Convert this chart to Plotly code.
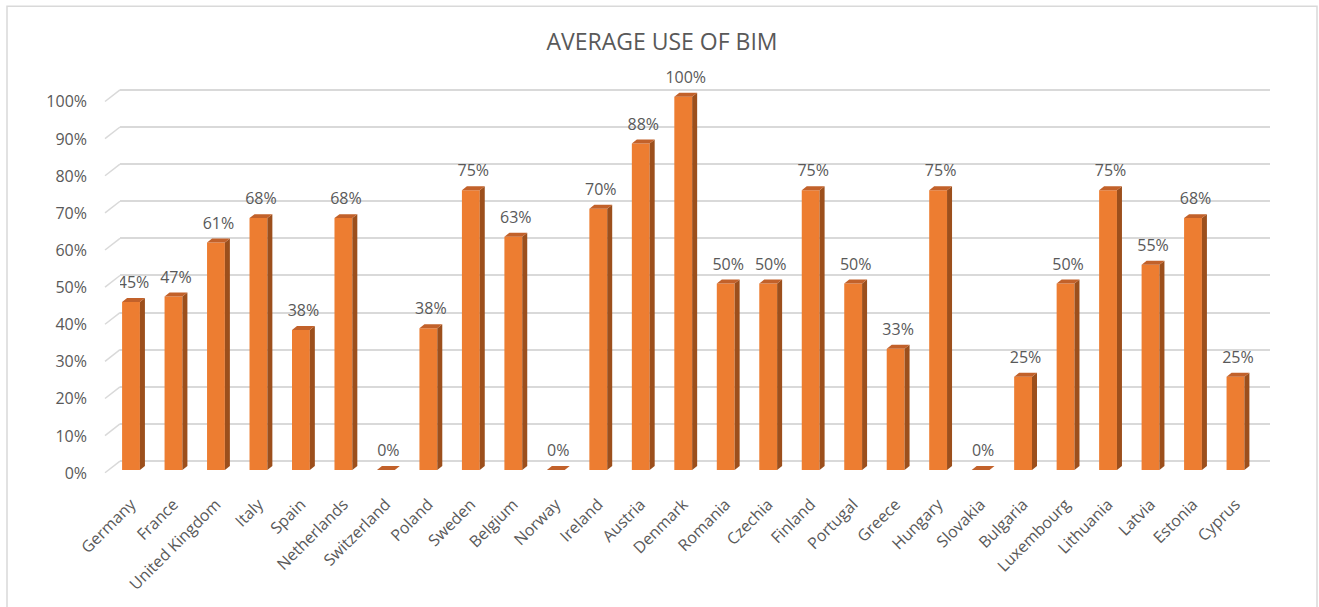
import plotly.graph_objects as go

countries = ["Germany", "France", "United Kingdom", "Italy", "Spain", "Netherlands",
             "Switzerland", "Poland", "Sweden", "Belgium", "Norway", "Ireland",
             "Austria", "Denmark", "Romania", "Czechia", "Finland", "Portugal",
             "Greece", "Hungary", "Slovakia", "Bulgaria", "Luxembourg", "Lithuania",
             "Latvia", "Estonia", "Cyprus"]
values = [0.45, 0.465, 0.61, 0.675, 0.375, 0.675, 0.0, 0.38, 0.75, 0.625, 0.0, 0.70,
          0.875, 1.0, 0.50, 0.50, 0.75, 0.50, 0.325, 0.75, 0.0, 0.25, 0.50, 0.75,
          0.55, 0.675, 0.25]
y_ticks = [i / 10 for i in range(11)]

W, H = 1319, 607
PL, PR, PT, PB = 120, 1270, 60, 480
STEP, X0PX = 42.48, 131.0
FRONT0, FRONTS = 472.0, 375.0
BACK0, BACKS = 463.0, 373.0

FRONT = "#ED7D31"
SIDE = "#9C4F1C"
TOP = "#C2612A"
GRID = "#D9D9D9"
TXT = "#595959"
FONT = "Open Sans"

bar_w = 0.42
ddx = 5.0 / STEP
ddy = 4.0 / FRONTS

xs = list(range(len(countries)))

fig = go.Figure()

fig.add_trace(go.Bar(x=xs, y=values, width=bar_w, marker=dict(color=FRONT, line=dict(width=0)),
                     hoverinfo="skip", showlegend=False))

side_x, side_y, top_x, top_y = [], [], [], []
for i, v in zip(xs, values):
    r = i + bar_w / 2
    l = i - bar_w / 2
    side_x += [r, r, r + ddx, r + ddx, r, None]
    side_y += [0, v, v + ddy, ddy, 0, None]
    top_x += [l, r, r + ddx, l + ddx, l, None]
    top_y += [v, v, v + ddy, v + ddy, v, None]

fig.add_trace(go.Scatter(x=side_x, y=side_y, mode="lines", fill="toself", fillcolor=SIDE,
                         line=dict(width=0, color=SIDE), hoverinfo="skip", showlegend=False))
fig.add_trace(go.Scatter(x=top_x, y=top_y, mode="lines", fill="toself", fillcolor=TOP,
                         line=dict(width=0, color=TOP), hoverinfo="skip", showlegend=False))

fig.add_trace(go.Scatter(x=[i + ddx / 2 for i in xs], y=values, mode="markers+text",
                         marker=dict(size=14, color="rgba(0,0,0,0)"),
                         texttemplate="%{y:.0%}", textposition="top center",
                         textfont=dict(family=FONT, size=16, color=TXT),
                         hoverinfo="skip", showlegend=False))

# invisible trace for back-wall axis
fig.add_trace(go.Scatter(x=[0], y=[0], yaxis="y2", mode="markers",
                         marker=dict(size=1, color="rgba(0,0,0,0)"),
                         hoverinfo="skip", showlegend=False))

def px_to_paper_x(p):
    return (p - PL) / (PR - PL)

def px_to_paper_y(p):
    return (PB - p) / (PB - PT)

shapes = []
# slanted tick stubs on left of back wall
for t in y_ticks:
    shapes.append(dict(type="line", xref="paper", yref="y2",
                       x0=px_to_paper_x(105), y0=t - 11.7 / BACKS,
                       x1=px_to_paper_x(120), y1=t,
                       line=dict(color=GRID, width=1.5), layer="below"))
# chart border
shapes.append(dict(type="rect", xref="paper", yref="paper",
                   x0=px_to_paper_x(7), x1=px_to_paper_x(1317),
                   y0=px_to_paper_y(615), y1=px_to_paper_y(6),
                   line=dict(color=GRID, width=1.5), fillcolor="rgba(0,0,0,0)"))

fig.update_layout(
    width=W, height=H, autosize=False,
    margin=dict(l=PL, r=W - PR, t=PT, b=H - PB, pad=0),
    paper_bgcolor="white", plot_bgcolor="white",
    font=dict(family=FONT, color=TXT),
    title=dict(text="AVERAGE USE OF BIM", x=662 / W, xanchor="center",
               y=1 - 42 / H, yanchor="middle",
               font=dict(family=FONT, size=23, color=TXT)),
    xaxis=dict(tickvals=xs, ticktext=countries, tickangle=-45,
               range=[(PL - X0PX) / STEP, (PR - X0PX) / STEP],
               showgrid=False, zeroline=False, showline=False, ticks="",
               tickfont=dict(family=FONT, size=16, color=TXT), ticklabelstandoff=13),
    yaxis=dict(range=[(FRONT0 - PB) / FRONTS, (FRONT0 - PT) / FRONTS],
               showgrid=False, zeroline=False, showticklabels=False, ticks=""),
    yaxis2=dict(overlaying="y", side="left",
                range=[(BACK0 - PB) / BACKS, (BACK0 - PT) / BACKS],
                tickvals=y_ticks, tickformat=".0%",
                showgrid=True, gridcolor=GRID, gridwidth=1.5, zeroline=False,
                tickfont=dict(family=FONT, size=16, color=TXT),
                ticklabelshift=12, ticklabelstandoff=32, ticks=""),
    shapes=shapes,
)

fig.write_html("out.html")
